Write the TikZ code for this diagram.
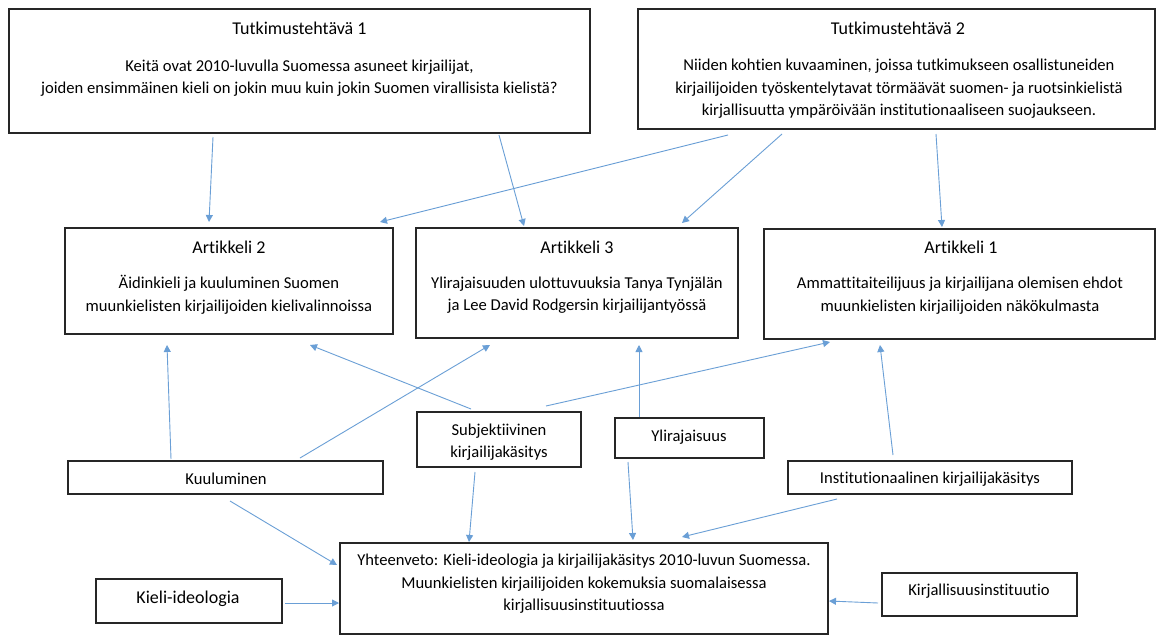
\documentclass[tikz,border=0pt]{standalone}
\usepackage{fontspec}
\setmainfont{Carlito}[Ligatures={NoCommon,NoContextual,NoRequired}]
\usetikzlibrary{arrows.meta}
\definecolor{arrowblue}{HTML}{6A9FD6}
\begin{document}
\begin{tikzpicture}[x=1pt,y=-1pt,
  box/.style={draw=black!85, line width=1.3pt, rectangle, inner sep=0pt, outer sep=0pt, fill=white},
  txt/.style={inner sep=0pt, align=center, font=\fontsize{16.6}{22.5}\selectfont},
  ttl/.style={inner sep=0pt, align=center, font=\fontsize{18}{22}\selectfont},
  arr/.style={draw=arrowblue, line width=0.9pt, -{Triangle[length=7pt,width=7pt]}}]
\fill[white] (0,0) rectangle (1157,635);
\useasboundingbox (0,0) rectangle (1157,635);

% boxes
\node[box, minimum width=581, minimum height=124] (t1) at (299.5,71) {};
\node[box, minimum width=517, minimum height=120] (t2) at (896.5,69) {};
\node[box, minimum width=328, minimum height=106] (a2) at (229,281) {};
\node[box, minimum width=322, minimum height=110] (a3) at (577,283) {};
\node[box, minimum width=391, minimum height=110] (a1) at (959.5,284) {};
\node[box, minimum width=164, minimum height=55] (subj) at (499,439.5) {};
\node[box, minimum width=149, minimum height=40] (ylir) at (689.5,438) {};
\node[box, minimum width=315, minimum height=33] (kuul) at (225.5,477.5) {};
\node[box, minimum width=284, minimum height=33] (inst) at (930,477.5) {};
\node[box, minimum width=488, minimum height=91] (yht) at (584,588.5) {};
\node[box, minimum width=186, minimum height=44] (kieli) at (189,601) {};
\node[box, minimum width=195, minimum height=43] (kirj) at (979.5,594.5) {};

% texts
\node[ttl] (t1t) at (299.5,28) {Tutkimustehtävä 1};
\node[txt] (t1b) at (299.5,78) {Keitä ovat 2010-luvulla Suomessa asuneet kirjailijat,\\joiden ensimmäinen kieli on jokin muu kuin jokin Suomen virallisista kielistä?};
\node[ttl] (t2t) at (898,28) {Tutkimustehtävä 2};
\node[txt] (t2b) at (899,89) {Niiden kohtien kuvaaminen, joissa tutkimukseen osallistuneiden\\kirjailijoiden työskentelytavat törmäävät suomen- ja ruotsinkielistä\\kirjallisuutta ympäröivään institutionaaliseen suojaukseen.};
\node[ttl] (a2t) at (229,247) {Artikkeli 2};
\node[txt] (a2b) at (229,295) {Äidinkieli ja kuuluminen Suomen\\muunkielisten kirjailijoiden kielivalinnoissa};
\node[ttl] (a3t) at (577,247) {Artikkeli 3};
\node[txt] (a3b) at (577,295) {Ylirajaisuuden ulottuvuuksia Tanya Tynjälän\\ja Lee David Rodgersin kirjailijantyössä};
\node[ttl] (a1t) at (961,247) {Artikkeli 1};
\node[txt] (a1b) at (960,295.5) {Ammattitaiteilijuus ja kirjailijana olemisen ehdot\\muunkielisten kirjailijoiden näkökulmasta};
\node[txt] (subjt) at (499,442) {Subjektiivinen\\kirjailijakäsitys};
\node[txt] (ylirt) at (689,437) {Ylirajaisuus};
\node[txt] (kuult) at (226,479) {Kuuluminen};
\node[txt] (instt) at (930,479) {Institutionaalinen kirjailijakäsitys};
\node[txt] (yhtt) at (584,584) {Yhteenveto: Kieli-ideologia ja kirjailijakäsitys 2010-luvun Suomessa.\\Muunkielisten kirjailijoiden kokemuksia suomalaisessa\\kirjallisuusinstituutiossa};
\node[inner sep=0pt, font=\fontsize{18}{22}\selectfont] (kielit) at (188,599) {Kieli-ideologia};
\node[txt] (kirjt) at (979,591) {Kirjallisuusinstituutio};

% connectors
\draw[arr] ([shift={(204,4)}]t1.south west) -- ([shift={(144,-6)}]a2.north west);
\draw[arr] ([shift={(-91,2)}]t1.south east) -- ([shift={(108,-2)}]a3.north west);
\draw[arr] ([shift={(90,6)}]t2.south west) -- ([shift={(-13,-6)}]a2.north east);
\draw[arr] ([shift={(144,5)}]t2.south west) -- ([shift={(-56,-5)}]a3.north east);
\draw[arr] ([shift={(298,5)}]t2.south west) -- ([shift={(178,-2)}]a1.north west);
\draw[arr] ([shift={(103,-2)}]kuul.north west) -- ([shift={(102,11)}]a2.south west);
\draw[arr] ([shift={(232,-3)}]kuul.north west) -- ([shift={(74,7)}]a3.south west);
\draw[arr] ([shift={(54,-3)}]subj.north west) -- ([shift={(245,11)}]a2.south west);
\draw[arr] ([shift={(129,-6)}]subj.north west) -- ([shift={(66,3)}]a1.south west);
\draw[arr] ([shift={(24,-1)}]ylir.north west) -- ([shift={(223,7)}]a3.south west);
\draw[arr] ([shift={(105,-6)}]inst.north west) -- ([shift={(116,6)}]a1.south west);
\draw[arr] ([shift={(162,7)}]kuul.south west) -- ([shift={(-3,22)}]yht.north west);
\draw[arr] ([shift={(58,5)}]subj.south west) -- ([shift={(129,-1)}]yht.north west);
\draw[arr] ([shift={(13,4)}]ylir.south west) -- ([shift={(293,-3)}]yht.north west);
\draw[arr] ([shift={(49,5)}]inst.south west) -- ([shift={(-146,-6)}]yht.north east);
\draw[arr] ([shift={(3,2)}]kieli.east) -- ([shift={(-1,14.5)}]yht.west);
\draw[arr] ([shift={(-4,8.5)}]kirj.west) -- ([shift={(1,12.5)}]yht.east);
\end{tikzpicture}
\end{document}
